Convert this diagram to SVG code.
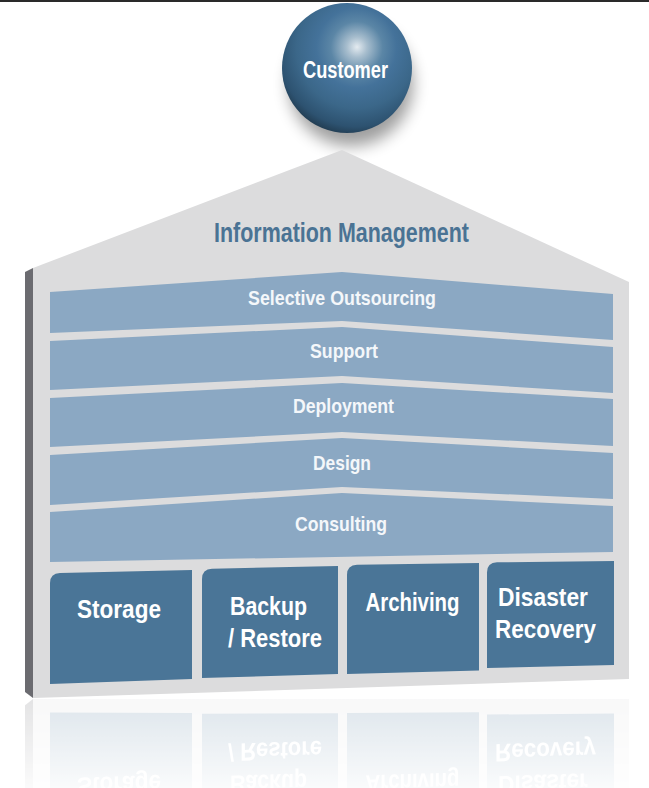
<svg xmlns="http://www.w3.org/2000/svg" xmlns:xlink="http://www.w3.org/1999/xlink" width="649" height="788" viewBox="0 0 649 788">
<style>
.t{font-family:"Liberation Sans Narrow","Liberation Sans",Arial,sans-serif;font-weight:bold}
.band{fill:#8ba8c3}
.box{fill:#4a7597}
.bt{fill:#f4f7fa;font-size:21px}
.xt{fill:#ffffff;font-size:25px}
</style>
<defs>
<radialGradient id="sph" gradientUnits="userSpaceOnUse" cx="356" cy="49" r="100" fx="357" fy="47">
<stop offset="0" stop-color="#e4ebf0"/>
<stop offset="0.1" stop-color="#a8bece"/>
<stop offset="0.26" stop-color="#5b86a6"/>
<stop offset="0.4" stop-color="#44729a"/>
<stop offset="0.6" stop-color="#3b6789"/>
<stop offset="0.78" stop-color="#2d5270"/>
<stop offset="0.92" stop-color="#1b3040"/>
<stop offset="1" stop-color="#101a22"/>
</radialGradient>
<filter id="blur" x="-50%" y="-50%" width="200%" height="200%">
<feGaussianBlur stdDeviation="8"/>
</filter>
<linearGradient id="fadeG" gradientUnits="userSpaceOnUse" x1="0" y1="692" x2="0" y2="788">
<stop offset="0" stop-color="#fff" stop-opacity="0.2"/>
<stop offset="1" stop-color="#fff" stop-opacity="0.03"/>
</linearGradient>
<mask id="fade" maskUnits="userSpaceOnUse" x="0" y="660" width="649" height="128">
<rect x="0" y="660" width="649" height="128" fill="url(#fadeG)"/>
</mask>
</defs>
<rect x="0" y="0" width="649" height="788" fill="#ffffff"/>
<rect x="0" y="0" width="649" height="2" fill="#2a2a2a"/>

<g id="customer-shadow">
<circle cx="351" cy="84" r="62" fill="#000" opacity="0.38" filter="url(#blur)"/>
</g>

<g id="house">
<polygon points="33,268 342,150 629,282 629,679 33,698" fill="#dcdcdd"/>
<polygon points="25,272 33,268 33,698 25,692" fill="#6b6b70"/>
<text class="t" x="214" y="242" font-size="27" fill="#4a7394" textLength="255" lengthAdjust="spacingAndGlyphs">Information Management</text>
</g>

<g id="customer">
<circle cx="347" cy="68" r="65" fill="url(#sph)"/>
<text class="t" x="303" y="78" font-size="23" fill="#ffffff" textLength="85" lengthAdjust="spacingAndGlyphs">Customer</text>
</g>

<g id="band-selective-outsourcing">
<polygon class="band" points="50,292 342,272 613,294 613,340 342,321 50,333"/>
<text class="t bt" x="248" y="305" textLength="188" lengthAdjust="spacingAndGlyphs">Selective Outsourcing</text>
</g>
<g id="band-support">
<polygon class="band" points="50,341 342,327 613,347 613,393 342,376 50,390"/>
<text class="t bt" x="310" y="358" textLength="68" lengthAdjust="spacingAndGlyphs">Support</text>
</g>
<g id="band-deployment">
<polygon class="band" points="50,398 342,383 613,399 613,446 342,432 50,447"/>
<text class="t bt" x="293" y="413" textLength="101" lengthAdjust="spacingAndGlyphs">Deployment</text>
</g>
<g id="band-design">
<polygon class="band" points="50,455 342,438 613,453 613,499 342,487 50,505"/>
<text class="t bt" x="313" y="470" textLength="58" lengthAdjust="spacingAndGlyphs">Design</text>
</g>
<g id="band-consulting">
<polygon class="band" points="50,512 342,493 613,506 613,552 50,562"/>
<text class="t bt" x="295" y="531" textLength="92" lengthAdjust="spacingAndGlyphs">Consulting</text>
</g>

<g id="pillars">
<g id="box-storage">
<path class="box" d="M50,583 Q50,573.5 60,573 L192,570 L192,679 L50,684 Z"/>
<text class="t xt" x="77" y="618" textLength="84" lengthAdjust="spacingAndGlyphs">Storage</text>
</g>
<g id="box-backup">
<path class="box" d="M202,579 Q202,569 212,568.7 L338,566 L338,674 L202,678 Z"/>
<text class="t xt" x="230" y="615" textLength="77" lengthAdjust="spacingAndGlyphs">Backup</text>
<text class="t xt" x="228" y="647" textLength="94" lengthAdjust="spacingAndGlyphs">/ Restore</text>
</g>
<g id="box-archiving">
<path class="box" d="M347,575 Q347,565 357,564.8 L479,563 L479,670.5 L347,674 Z"/>
<text class="t xt" x="365.5" y="611" textLength="94" lengthAdjust="spacingAndGlyphs">Archiving</text>
</g>
<g id="box-disaster">
<path class="box" d="M487,572.5 Q487,562.5 497,562.3 L614,561 L614,665 L487,668 Z"/>
<text class="t xt" x="498" y="606" textLength="90" lengthAdjust="spacingAndGlyphs">Disaster</text>
<text class="t xt" x="495" y="638" textLength="101" lengthAdjust="spacingAndGlyphs">Recovery</text>
</g>
</g>

<g id="reflection" mask="url(#fade)">
<g transform="matrix(1,-0.0319,0,-1,0,1398.1)">
<polygon points="33,560 629,560 629,679 33,698" fill="#dcdcdd"/>
<polygon points="25,560 33,560 33,698 25,692" fill="#6b6b70"/>
<use xlink:href="#pillars"/>
</g>
</g>

<g id="connectors"/>
</svg>
